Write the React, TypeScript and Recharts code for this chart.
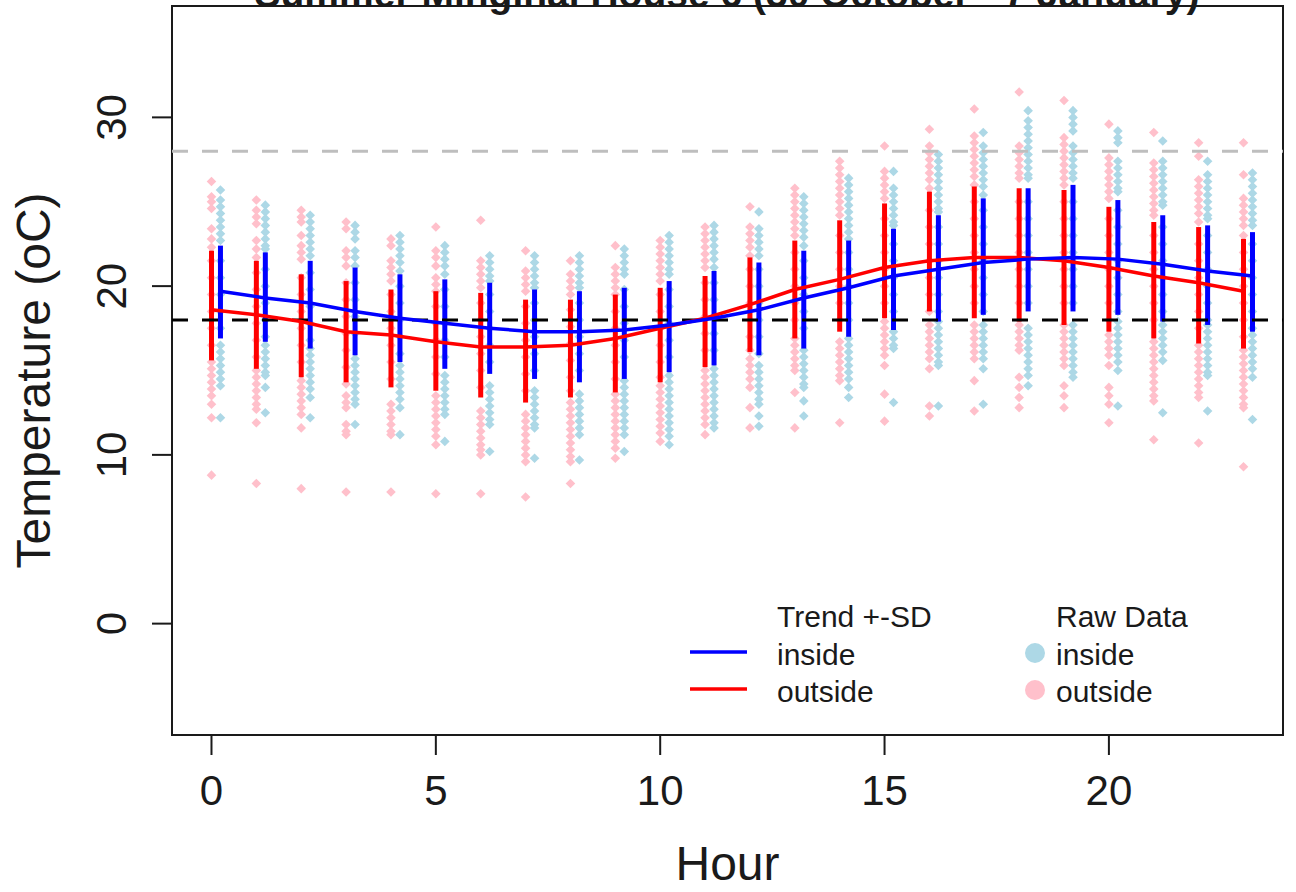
import React from 'react';
import {
  ComposedChart,
  XAxis,
  YAxis,
  Scatter,
  ErrorBar,
  ReferenceLine,
  ReferenceArea,
  Legend,
} from 'recharts';

// ---------- data ----------
const hours: number[] = [0, 1, 2, 3, 4, 5, 6, 7, 8, 9, 10, 11, 12, 13, 14, 15, 16, 17, 18, 19, 20, 21, 22, 23];
const INSIDE_OFFSET = 0.2;

const outsideTrend: number[] = [18.6, 18.3, 17.9, 17.3, 17.1, 16.7, 16.4, 16.4, 16.5, 16.9, 17.5, 18.1, 18.9, 19.8, 20.4, 21.1, 21.5, 21.7, 21.7, 21.5, 21.1, 20.6, 20.2, 19.7];
const insideTrend: number[] = [19.7, 19.3, 19.0, 18.5, 18.1, 17.8, 17.5, 17.3, 17.3, 17.4, 17.7, 18.1, 18.6, 19.3, 19.9, 20.6, 21.0, 21.4, 21.6, 21.7, 21.6, 21.3, 20.9, 20.6];

const outsideLow: number[] = [15.6, 15.1, 14.6, 14.3, 14.0, 13.8, 13.4, 13.1, 13.4, 13.7, 14.3, 15.2, 16.1, 16.9, 17.3, 18.1, 18.5, 18.1, 17.9, 17.7, 17.3, 16.9, 16.6, 16.3];
const outsideHigh: number[] = [22.1, 21.5, 20.7, 20.3, 19.8, 19.7, 19.6, 19.2, 19.2, 19.5, 19.9, 20.6, 21.7, 22.7, 23.9, 24.9, 25.6, 25.9, 25.8, 25.7, 24.7, 23.8, 23.5, 22.8];
const insideLow: number[] = [16.9, 16.7, 16.3, 15.9, 15.5, 15.1, 14.8, 14.5, 14.3, 14.5, 14.9, 15.3, 15.9, 16.3, 17.0, 17.4, 17.9, 18.3, 18.5, 18.5, 18.3, 17.9, 17.7, 17.3];
const insideHigh: number[] = [22.4, 22.0, 21.5, 21.1, 20.7, 20.4, 20.2, 19.8, 19.7, 19.9, 20.3, 20.9, 21.4, 22.1, 22.7, 23.4, 24.2, 25.2, 25.8, 26.0, 25.1, 24.2, 23.6, 23.2];

const outsideRaw: number[][] = [
  [26.2, 25.3, 25.0, 24.6, 23.4, 22.8, 22.3, 21.5, 20.5, 19.5, 18.5, 17.5, 16.5, 15.5, 15.1, 14.7, 14.3, 13.9, 13.5, 13.0, 12.2, 8.8],
  [25.1, 24.5, 24.1, 23.7, 22.7, 22.2, 21.7, 20.8, 19.8, 18.8, 17.8, 16.8, 15.8, 15.0, 14.6, 14.2, 13.8, 13.4, 13.0, 12.7, 11.9, 8.3],
  [24.5, 24.1, 23.8, 23.0, 22.4, 22.0, 21.6, 20.5, 19.5, 18.5, 17.5, 16.5, 15.5, 14.4, 14.0, 13.6, 13.2, 12.8, 12.4, 11.6, 8.0],
  [23.8, 23.4, 22.1, 21.7, 21.2, 20.2, 19.2, 18.2, 17.2, 16.2, 15.2, 14.2, 13.5, 13.1, 12.8, 11.8, 11.4, 11.2, 7.8],
  [22.8, 22.4, 21.5, 21.1, 20.7, 20.3, 19.5, 18.5, 17.5, 16.5, 15.5, 14.5, 13.0, 12.6, 12.2, 11.8, 11.4, 11.2, 7.8],
  [23.5, 22.1, 21.7, 21.2, 20.5, 20.1, 19.7, 18.8, 17.8, 16.8, 15.8, 14.8, 13.5, 13.1, 12.7, 12.3, 11.9, 11.5, 11.1, 10.6, 7.7],
  [23.9, 21.5, 21.1, 20.7, 20.3, 19.9, 19.0, 18.0, 17.0, 16.0, 15.0, 14.0, 12.6, 12.2, 11.8, 11.4, 11.0, 10.6, 10.3, 10.0, 7.7],
  [22.1, 20.9, 20.5, 20.1, 19.7, 18.8, 17.8, 16.8, 15.8, 14.8, 13.8, 12.4, 12.0, 11.6, 11.2, 10.8, 10.4, 10.0, 9.6, 7.5],
  [21.5, 20.7, 20.3, 19.9, 19.5, 18.6, 17.6, 16.6, 15.6, 14.6, 13.8, 13.1, 12.7, 12.3, 11.9, 11.5, 11.1, 10.7, 10.3, 9.9, 9.6, 8.3],
  [22.4, 21.1, 20.7, 20.3, 19.9, 19.5, 18.5, 17.5, 16.5, 15.5, 14.5, 13.6, 13.2, 12.8, 12.4, 12.0, 11.6, 11.2, 10.8, 10.4, 9.8],
  [22.7, 22.3, 21.9, 21.5, 21.1, 20.7, 20.3, 19.5, 18.5, 17.5, 16.5, 15.5, 14.6, 14.1, 13.7, 13.3, 12.9, 12.5, 12.1, 11.7, 11.3, 10.8],
  [23.5, 23.1, 22.7, 22.3, 21.9, 21.5, 21.1, 20.2, 19.2, 18.2, 17.2, 16.2, 15.0, 14.6, 14.2, 13.8, 13.4, 13.0, 12.6, 12.2, 11.8, 11.2],
  [24.7, 23.5, 23.1, 22.7, 22.3, 21.8, 21.0, 20.0, 19.0, 18.0, 17.0, 16.2, 15.7, 15.3, 14.9, 14.5, 14.0, 12.8, 11.6],
  [25.8, 25.4, 25.0, 24.6, 24.2, 23.8, 23.4, 23.0, 22.0, 21.0, 20.0, 19.0, 18.0, 16.9, 16.5, 16.1, 15.7, 15.3, 15.0, 13.7, 11.6],
  [27.4, 27.0, 26.6, 26.2, 25.8, 25.4, 25.0, 24.6, 24.2, 23.0, 22.0, 21.0, 20.0, 19.0, 18.0, 16.7, 16.3, 15.9, 15.5, 15.1, 14.7, 14.4, 11.9],
  [28.3, 26.8, 26.4, 26.0, 25.6, 25.2, 24.0, 23.0, 22.0, 21.0, 20.0, 19.0, 17.9, 17.5, 17.1, 16.7, 16.3, 15.9, 15.3, 13.6, 12.0],
  [29.3, 28.3, 27.9, 27.5, 27.1, 26.7, 26.3, 25.8, 24.5, 23.5, 22.5, 21.5, 20.5, 19.5, 18.5, 17.7, 17.3, 16.9, 16.5, 16.1, 15.7, 15.1, 12.9, 12.3],
  [30.5, 28.9, 28.5, 28.1, 27.7, 27.3, 26.9, 26.5, 26.0, 25.0, 24.0, 23.0, 22.0, 21.0, 20.0, 19.0, 17.7, 17.3, 16.9, 16.5, 16.1, 15.7, 14.4, 12.6],
  [31.5, 28.3, 27.9, 27.5, 27.1, 26.7, 26.4, 25.0, 24.0, 23.0, 22.0, 21.0, 20.0, 19.0, 17.7, 17.3, 16.9, 16.5, 16.2, 14.6, 14.0, 13.4, 12.8],
  [31.0, 28.8, 28.4, 28.0, 27.6, 27.2, 26.8, 26.4, 26.0, 25.0, 24.0, 23.0, 22.0, 21.0, 20.0, 19.0, 17.7, 17.3, 16.9, 16.5, 16.1, 15.7, 15.3, 14.1, 13.5, 12.8],
  [29.6, 27.6, 27.2, 26.8, 26.4, 26.0, 25.6, 25.2, 24.0, 23.0, 22.0, 21.0, 20.0, 19.0, 18.0, 17.1, 16.7, 16.3, 15.9, 15.3, 14.0, 13.5, 13.0, 11.9],
  [29.1, 27.3, 26.9, 26.5, 26.1, 25.7, 25.3, 24.9, 24.5, 24.2, 23.0, 22.0, 21.0, 20.0, 19.0, 18.0, 16.7, 16.3, 15.9, 15.5, 15.1, 14.7, 14.3, 13.9, 13.5, 13.2, 10.9],
  [28.5, 27.7, 26.3, 25.9, 25.5, 25.1, 24.7, 24.3, 23.8, 22.5, 21.5, 20.5, 19.5, 18.5, 17.5, 16.5, 16.1, 15.7, 15.3, 14.9, 14.5, 14.1, 13.7, 13.4, 10.7],
  [28.5, 26.6, 25.2, 24.8, 24.4, 24.0, 23.6, 23.0, 22.0, 21.0, 20.0, 19.0, 18.0, 17.0, 16.2, 15.8, 15.4, 15.0, 14.6, 14.2, 13.8, 13.4, 13.0, 12.8, 9.3],
];

const insideRaw: number[][] = [
  [25.7, 25.1, 24.7, 24.3, 23.9, 23.5, 23.1, 22.7, 21.5, 20.5, 19.5, 18.5, 17.5, 16.5, 16.1, 15.7, 15.3, 14.9, 14.5, 14.1, 12.2],
  [24.8, 24.4, 24.0, 23.6, 23.2, 22.8, 22.4, 22.2, 21.0, 20.0, 19.0, 18.0, 17.0, 16.5, 16.1, 15.7, 15.3, 14.9, 14.7, 14.0, 12.5],
  [24.2, 23.8, 23.4, 23.0, 22.6, 22.2, 21.8, 20.8, 19.8, 18.8, 17.8, 16.8, 16.3, 15.9, 15.5, 15.1, 14.7, 14.3, 13.9, 13.4, 12.2],
  [23.6, 23.2, 22.8, 22.1, 21.7, 21.2, 20.2, 19.2, 18.2, 17.2, 15.7, 15.3, 14.9, 14.5, 14.1, 13.7, 13.3, 13.0, 11.8],
  [23.0, 22.6, 22.2, 21.8, 21.4, 20.9, 20.0, 19.0, 18.0, 17.0, 16.0, 15.3, 14.9, 14.5, 14.1, 13.7, 13.3, 12.8, 11.2],
  [22.4, 22.0, 21.6, 21.2, 20.7, 19.8, 18.8, 17.8, 16.8, 15.8, 14.7, 14.3, 13.9, 13.5, 13.1, 12.7, 12.4, 10.8],
  [21.8, 21.4, 21.0, 20.6, 20.3, 19.5, 18.5, 17.5, 16.5, 15.5, 14.1, 13.7, 13.3, 12.9, 12.5, 12.1, 11.8, 10.2],
  [21.8, 21.4, 21.0, 20.6, 20.2, 19.9, 19.0, 18.0, 17.0, 16.0, 15.0, 13.8, 13.4, 13.0, 12.6, 12.2, 11.8, 11.6, 9.8],
  [21.8, 21.4, 21.0, 20.6, 20.2, 19.9, 19.0, 18.0, 17.0, 16.0, 15.0, 13.6, 13.2, 12.8, 12.4, 12.0, 11.6, 11.2, 9.7],
  [22.2, 21.8, 21.4, 21.0, 20.7, 19.8, 18.8, 17.8, 16.8, 15.8, 14.4, 14.0, 13.6, 13.2, 12.8, 12.4, 12.0, 11.6, 11.2, 10.2],
  [23.0, 22.6, 22.2, 21.8, 21.4, 21.0, 20.7, 19.8, 18.8, 17.8, 16.8, 15.8, 14.7, 14.3, 13.9, 13.5, 13.1, 12.7, 12.3, 11.9, 11.5, 11.1, 10.6],
  [23.6, 23.2, 22.8, 22.4, 22.0, 21.6, 21.1, 20.2, 19.2, 18.2, 17.2, 16.2, 15.1, 14.7, 14.3, 13.9, 13.5, 13.1, 12.7, 12.3, 11.9, 11.6],
  [24.4, 23.4, 23.0, 22.6, 22.2, 21.8, 21.0, 20.0, 19.0, 18.0, 17.0, 16.0, 15.3, 14.9, 14.5, 14.1, 13.7, 13.3, 13.0, 12.3, 11.7],
  [25.3, 24.9, 24.5, 24.1, 23.7, 23.3, 22.9, 22.4, 21.5, 20.5, 19.5, 18.5, 17.5, 16.2, 15.8, 15.4, 15.0, 14.6, 14.2, 14.0, 13.2, 12.3],
  [26.4, 26.0, 25.6, 25.2, 24.8, 24.4, 24.0, 23.6, 23.2, 22.8, 22.0, 21.0, 20.0, 19.0, 18.0, 16.9, 16.5, 16.1, 15.7, 15.3, 14.9, 14.5, 14.0, 13.4],
  [26.8, 25.8, 25.4, 25.0, 24.6, 24.2, 23.8, 23.6, 22.5, 21.5, 20.5, 19.5, 18.5, 17.3, 16.9, 16.5, 16.3, 13.1],
  [27.8, 27.4, 27.0, 26.6, 26.2, 25.8, 25.4, 25.0, 24.6, 24.4, 23.5, 22.5, 21.5, 20.5, 19.5, 18.5, 17.9, 17.5, 17.1, 16.7, 16.3, 15.9, 15.5, 15.3, 12.9],
  [29.1, 28.3, 27.9, 27.5, 27.1, 26.7, 26.3, 25.9, 25.4, 24.5, 23.5, 22.5, 21.5, 20.5, 19.5, 18.5, 17.7, 17.3, 16.9, 16.5, 16.1, 15.7, 15.1, 13.0],
  [30.4, 29.8, 29.4, 29.0, 28.6, 28.2, 27.8, 27.4, 27.0, 26.6, 26.4, 25.0, 24.0, 23.0, 22.0, 21.0, 20.0, 19.0, 17.5, 17.1, 16.7, 16.3, 15.9, 15.5, 15.1, 14.7, 14.1],
  [30.4, 30.0, 29.6, 29.2, 28.3, 27.9, 27.5, 27.1, 26.7, 26.4, 25.0, 24.0, 23.0, 22.0, 21.0, 20.0, 19.0, 17.7, 17.3, 16.9, 16.5, 16.1, 15.7, 15.3, 14.9, 14.6],
  [29.2, 28.8, 28.5, 27.4, 27.0, 26.6, 26.2, 25.8, 25.6, 24.5, 23.5, 22.5, 21.5, 20.5, 19.5, 18.5, 17.9, 17.5, 17.1, 16.7, 16.3, 15.9, 15.5, 15.0, 12.9],
  [28.6, 27.4, 27.0, 26.6, 26.2, 25.8, 25.4, 25.0, 24.8, 23.5, 22.5, 21.5, 20.5, 19.5, 18.5, 17.7, 17.3, 16.9, 16.5, 16.1, 15.6, 12.5],
  [27.4, 26.6, 26.2, 25.8, 25.4, 25.0, 24.6, 24.2, 24.0, 23.0, 22.0, 21.0, 20.0, 19.0, 18.0, 17.7, 17.3, 16.9, 16.5, 16.1, 15.7, 15.3, 14.9, 14.7, 12.6],
  [26.7, 26.3, 25.9, 25.5, 25.1, 24.7, 24.3, 23.9, 23.6, 22.5, 21.5, 20.5, 19.5, 18.5, 17.5, 17.1, 16.7, 16.3, 15.9, 15.5, 15.1, 14.6, 12.1],
];

const comfortUpper = 28;
const comfortLower = 18;
const xTicks: number[] = [0, 5, 10, 15, 20];
const yTicks: number[] = [0, 10, 20, 30];
const xDomain: [number, number] = [-0.88, 23.88];
const yDomain: [number, number] = [-6.6, 36.6];

const titleText = 'Summer Minginal House 6 (30 October - 7 January)';
const legendTrendTitle = 'Trend +-SD';
const legendRawTitle = 'Raw Data';
const legendLabels: string[] = ['inside', 'outside'];

// ---------- styles ----------
const FONT = '"Liberation Sans", Arial, Helvetica, sans-serif';
const RED = '#FF0000';
const BLUE = '#0000FF';
const PINK = '#FFC0CB';
const LIGHTBLUE = '#ADD8E6';
const INK = '#1a1a1a';

// ---------- derived series ----------
const outsidePts = outsideRaw.flatMap((vals, i) => vals.map((v) => ({ x: hours[i], y: v })));
const insidePts = insideRaw.flatMap((vals, i) => vals.map((v) => ({ x: hours[i] + INSIDE_OFFSET, y: v })));

const outsideBars = hours.map((h, i) => ({ x: h, y: outsideLow[i], err: [0, outsideHigh[i] - outsideLow[i]] }));
const insideBars = hours.map((h, i) => ({ x: h + INSIDE_OFFSET, y: insideLow[i], err: [0, insideHigh[i] - insideLow[i]] }));

const outsideTrendPts = hours.map((h, i) => ({ x: h, y: outsideTrend[i] }));
const insideTrendPts = hours.map((h, i) => ({ x: h + INSIDE_OFFSET, y: insideTrend[i] }));

const Nothing = () => <g />;

const makeDiamond = (fill: string) => (props: any) => {
  const { cx, cy } = props;
  if (cx == null || cy == null) return <g />;
  const r = 4.8;
  return (
    <polygon
      points={`${cx},${cy - r} ${cx + r},${cy} ${cx},${cy + r} ${cx - r},${cy}`}
      fill={fill}
    />
  );
};

const YTick = (props: any) => {
  const { x, y, payload } = props;
  return (
    <text
      x={x}
      y={y}
      transform={`rotate(-90, ${x}, ${y})`}
      textAnchor="middle"
      fontSize={42}
      fontFamily={FONT}
      fill={INK}
    >
      {payload.value}
    </text>
  );
};

const YLabel = (props: any) => {
  const vb = props.viewBox || {};
  const cx = 50;
  const cy = (vb.y ?? 0) + (vb.height ?? 0) / 2 + 10;
  return (
    <text
      x={cx}
      y={cy}
      transform={`rotate(-90, ${cx}, ${cy})`}
      textAnchor="middle"
      fontSize={48}
      fontFamily={FONT}
      fill={INK}
    >
      Temperature (oC)
    </text>
  );
};

const renderLegend = () => (
  <svg width={540} height={130} style={{ overflow: 'visible' }}>
    <g fontFamily={FONT} fontSize={30} fill={INK}>
      <text x={97} y={37}>{legendTrendTitle}</text>
      <line x1={10} x2={67} y1={62} y2={62} stroke={BLUE} strokeWidth={3.5} />
      <text x={97} y={75}>{legendLabels[0]}</text>
      <line x1={10} x2={67} y1={99} y2={99} stroke={RED} strokeWidth={3.5} />
      <text x={97} y={112}>{legendLabels[1]}</text>

      <text x={376} y={37}>{legendRawTitle}</text>
      <circle cx={355} cy={63} r={10} fill={LIGHTBLUE} />
      <text x={376} y={75}>{legendLabels[0]}</text>
      <circle cx={355} cy={100} r={10} fill={PINK} />
      <text x={376} y={112}>{legendLabels[1]}</text>
    </g>
  </svg>
);

export default function App() {
  return (
    <div style={{ position: 'absolute', left: 0, top: 0, width: 1296, height: 892, background: '#fff', fontFamily: FONT }}>
      <ComposedChart
        width={1296}
        height={892}
        margin={{ top: 6, right: 13, bottom: 0, left: 0 }}
        style={{ fontFamily: FONT }}
      >
        <XAxis
          type="number"
          dataKey="x"
          domain={xDomain}
          ticks={xTicks}
          allowDataOverflow
          height={157}
          tickSize={20}
          tickMargin={20}
          axisLine={false}
          tickLine={{ stroke: INK, strokeWidth: 2 }}
          tick={{ fontSize: 42, fill: INK, fontFamily: FONT }}
          label={{ value: 'Hour', position: 'insideBottom', offset: 12, fontSize: 48, fill: INK, fontFamily: FONT }}
        />
        <YAxis
          type="number"
          dataKey="y"
          domain={yDomain}
          ticks={yTicks}
          allowDataOverflow
          width={172}
          tickSize={20}
          tickMargin={26}
          axisLine={false}
          tickLine={{ stroke: INK, strokeWidth: 2 }}
          tick={<YTick />}
          label={<YLabel />}
        />

        <Scatter data={outsidePts} fill={PINK} shape={makeDiamond(PINK)} isAnimationActive={false} zIndex={50} />
        <Scatter data={insidePts} fill={LIGHTBLUE} shape={makeDiamond(LIGHTBLUE)} isAnimationActive={false} zIndex={51} />

        <Scatter data={outsideBars} shape={Nothing} isAnimationActive={false} zIndex={300}>
          <ErrorBar dataKey="err" direction="y" width={0} stroke={RED} strokeWidth={5} isAnimationActive={false} zIndex={300} />
        </Scatter>
        <Scatter data={insideBars} shape={Nothing} isAnimationActive={false} zIndex={301}>
          <ErrorBar dataKey="err" direction="y" width={0} stroke={BLUE} strokeWidth={5} isAnimationActive={false} zIndex={301} />
        </Scatter>

        <Scatter
          data={outsideTrendPts}
          shape={Nothing}
          line={{ stroke: RED, strokeWidth: 3.5 }}
          lineJointType="linear"
          isAnimationActive={false}
          zIndex={600}
        />
        <Scatter
          data={insideTrendPts}
          shape={Nothing}
          line={{ stroke: BLUE, strokeWidth: 3.5 }}
          lineJointType="linear"
          isAnimationActive={false}
          zIndex={601}
        />

        <ReferenceLine y={comfortUpper} stroke="#BEBEBE" strokeWidth={3} strokeDasharray="16 14" />
        <ReferenceLine y={comfortLower} stroke="#000" strokeWidth={3} strokeDasharray="16 14" />

        <ReferenceArea
          x1={xDomain[0]}
          x2={xDomain[1]}
          y1={yDomain[0]}
          y2={yDomain[1]}
          fill="none"
          fillOpacity={0}
          stroke={INK}
          strokeWidth={2}
        />

        <Legend
          layout="horizontal"
          verticalAlign="middle"
          align="center"
          content={renderLegend}
          wrapperStyle={{ left: 680, top: 590, width: 540, height: 130 }}
        />
      </ComposedChart>
      <svg
        width={1296}
        height={40}
        style={{ position: 'absolute', left: 0, top: 0, pointerEvents: 'none' }}
      >
        <text x={727} y={6.5} textAnchor="middle" fontSize={39} fontWeight="bold" fontFamily={FONT} fill={INK}>
          {titleText}
        </text>
      </svg>
    </div>
  );
}
